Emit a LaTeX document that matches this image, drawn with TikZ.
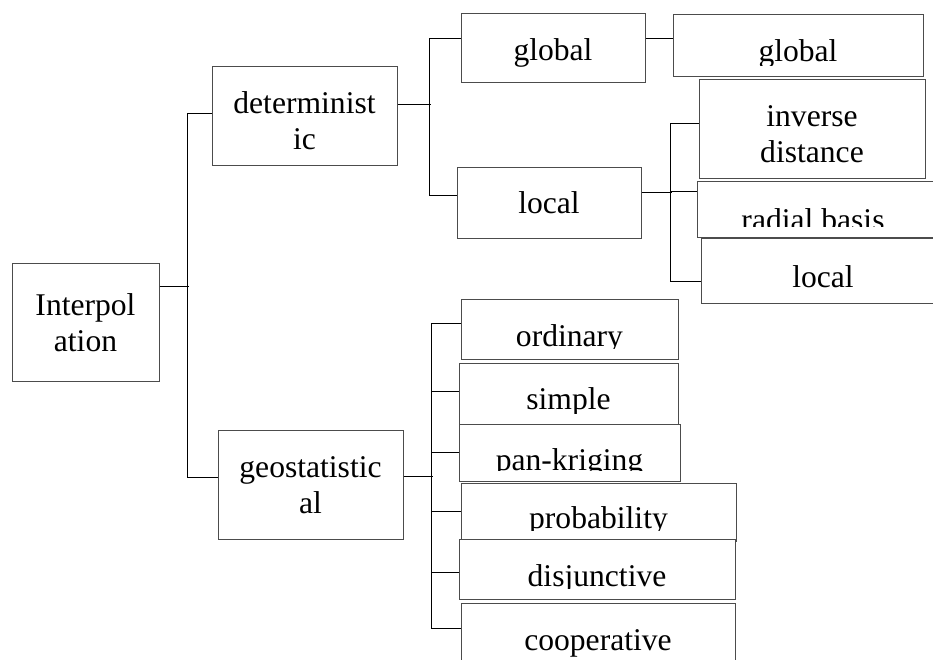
\documentclass[tikz,border=0pt]{standalone}
\usepackage{fontspec}
\setmainfont{Liberation Serif}
\usetikzlibrary{positioning}
\tikzset{
  text dx/.store in=\tdx, text dx=0pt,
  text dy/.store in=\tdy, text dy=47pt,
  tbox/.style={draw=black!70, fill=white, line width=1pt, inner sep=0pt,
    path picture={
      \clip (path picture bounding box.north west)
        rectangle ([yshift=11pt]path picture bounding box.south east);
      \node [anchor=base, align=center, inner sep=0pt,
        font=\fontsize{31.6}{36}\selectfont]
        at ([xshift=\tdx, yshift=-\tdy]path picture bounding box.north) {#1};
    }},
  link/.style={line width=1pt},
}

\begin{document}
\begin{tikzpicture}[x=1pt, y=-1pt]
  \useasboundingbox (0,0) rectangle (933,659);

  % first level (two lines: base is the last line)
  \node [tbox={Interpol\\ation}, text dy=88pt, minimum width=147pt, minimum height=118pt]
    (interp) at (85.5,322) {};
  \node [tbox={determinist\\ic}, text dy=83pt, minimum width=185pt, minimum height=99pt]
    (determ) at (304.5,115.5) {};
  \node [tbox={geostatistic\\al}, text dy=83pt, minimum width=185pt, minimum height=109pt]
    (geostat) at (310.5,484.5) {};

  % deterministic branch
  \node [tbox={global}, minimum width=184pt, minimum height=69pt]
    (glob) at (553,47.5) {};
  \node [tbox={local}, text dy=46pt, minimum width=184pt, minimum height=71pt]
    (loc) at (549,202.5) {};
  \node [tbox={global}, minimum width=250pt, minimum height=62pt]
    (globfit) at (798,45) {};
  \node [tbox={inverse\\distance}, text dy=83pt, minimum width=226pt, minimum height=99pt]
    (invdist) at (812,128.5) {};
  \node [tbox={radial basis}, text dx=-15.5pt, text dy=49pt, minimum width=263pt, minimum height=56pt]
    (radial) at (828.5,209) {};
  \node [tbox={local}, text dx=-7.5pt, text dy=49pt, minimum width=259pt, minimum height=65pt]
    (locfit) at (830.5,270.5) {};

  % geostatistical branch
  \node [tbox={ordinary}, minimum width=217pt, minimum height=60pt]
    (ordinary) at (569.5,329) {};
  \node [tbox={simple}, text dy=46pt, minimum width=219pt, minimum height=61pt]
    (simple) at (568.5,393.5) {};
  \node [tbox={pan-kriging}, text dy=46pt, minimum width=221pt, minimum height=57pt]
    (pankrig) at (569.5,452.5) {};
  \node [tbox={probability}, text dy=45pt, minimum width=275pt, minimum height=58pt]
    (prob) at (598.5,512) {};
  \node [tbox={disjunctive}, minimum width=276pt, minimum height=60pt]
    (disj) at (597,569) {};
  \node [tbox={cooperative}, minimum width=274pt, minimum height=97pt]
    (coop) at (598,651.5) {};

  % connectors
  \draw [link] ([yshift=36pt]interp.east) -- ++(29,0);
  \draw [link] ([yshift=2.5pt]determ.west) -- ++(-24,0) |- ([yshift=7.5pt]geostat.west);

  \draw [link] ([yshift=11.5pt]determ.east) -- ++(33,0);
  \draw [link] ([yshift=9.5pt]glob.west) -- ++(-31,0) |- ([yshift=7.5pt]loc.west);
  \draw [link] ([yshift=9.5pt]glob.east) -- ([yshift=7pt]globfit.west);

  \draw [link] ([yshift=10.5pt]loc.east) -- ++(30,0);
  \draw [link] ([yshift=5.5pt]invdist.west) -- ++(-28,0) |- ([yshift=-10.5pt]locfit.west);
  \draw [link] ([yshift=18pt]radial.west) -- ++(-26,0);

  \draw [link] ([yshift=8.5pt]geostat.east) -- ++(29,0);
  \draw [link] ([yshift=6pt]ordinary.west) -- ++(-29,0) |- ([yshift=23.5pt]coop.west);
  \draw [link] ([yshift=2.5pt]simple.west) -- ++(-27,0);
  \draw [link] ([yshift=0.5pt]pankrig.west) -- ++(-27,0);
  \draw [link] ([yshift=1pt]prob.west) -- ++(-29,0);
  \draw [link] ([yshift=-3pt]disj.west) -- ++(-27,0);
\end{tikzpicture}
\end{document}
